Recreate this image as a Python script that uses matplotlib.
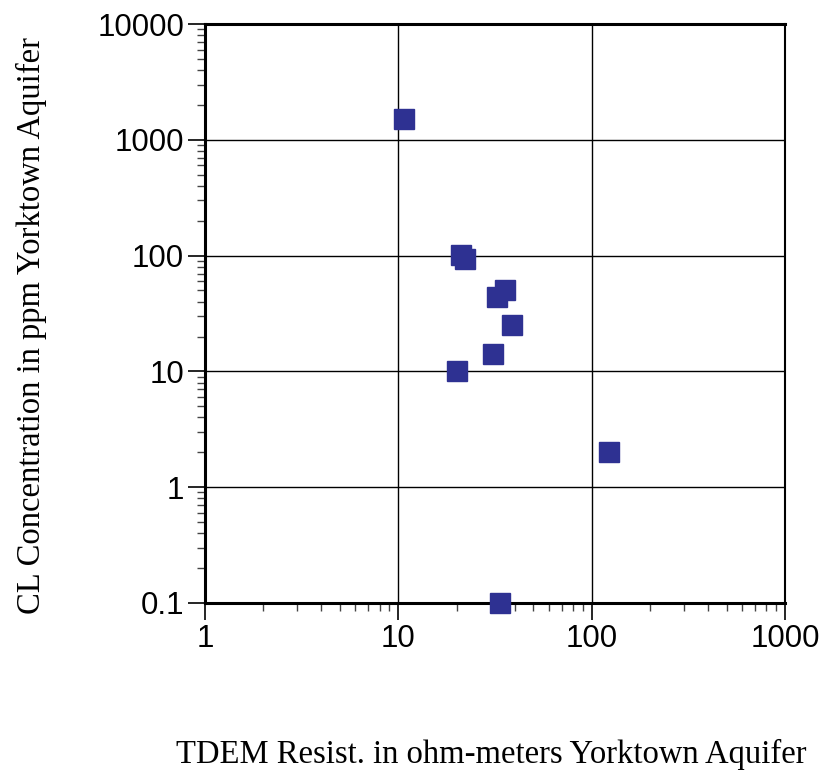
import numpy as np
import matplotlib
matplotlib.use("Agg")
from matplotlib import pyplot as plt
from matplotlib.ticker import LogLocator, FixedLocator, FixedFormatter, NullFormatter

# TDEM resistivity (ohm-m) vs CL concentration (ppm), Yorktown Aquifer
resist = [10.7, 21.1, 22.1, 35.6, 32.4, 38.7, 30.9, 20.1, 123, 33.6]
chloride = [1500, 102, 94, 50, 43.5, 25, 14, 10, 2.0, 0.1]

x_ticks = [1, 10, 100, 1000]
x_labels = ['1', '10', '100', '1000']
y_ticks = [0.1, 1, 10, 100, 1000, 10000]
y_labels = ['0.1', '1', '10', '100', '1000', '10000']

fig = plt.figure(figsize=(8.25, 7.75), dpi=100)
ax = fig.add_axes([0.2485, 0.222, 0.703, 0.747])

ax.set_xscale('log')
ax.set_yscale('log')
ax.set_xlim(1, 1000)
ax.set_ylim(0.1, 10000)

# 网格线
ax.grid(True, which='major', color='black', linewidth=1.0)
ax.set_axisbelow(True)

ax.plot(resist, chloride, linestyle='none', marker='s', markersize=14.5,
        color='#2e3192', markeredgecolor='#2e3192', clip_on=False, zorder=5)

ax.xaxis.set_major_locator(FixedLocator(x_ticks))
ax.xaxis.set_major_formatter(FixedFormatter(x_labels))
ax.yaxis.set_major_locator(FixedLocator(y_ticks))
ax.yaxis.set_major_formatter(FixedFormatter(y_labels))
ax.xaxis.set_minor_locator(LogLocator(base=10, subs=np.arange(2, 10), numticks=20))
ax.yaxis.set_minor_locator(LogLocator(base=10, subs=np.arange(2, 10), numticks=20))
ax.xaxis.set_minor_formatter(NullFormatter())
ax.yaxis.set_minor_formatter(NullFormatter())

ax.tick_params(which='major', direction='out', length=12, width=1.2, color='black',
               labelsize=22.5, pad=3)
ax.tick_params(which='minor', direction='out', length=6, width=1.0, color='#444444')
for lbl in ax.get_xticklabels() + ax.get_yticklabels():
    lbl.set_family('Liberation Sans')

for side in ['left', 'bottom', 'top']:
    ax.spines[side].set_linewidth(2.2)
ax.spines['right'].set_linewidth(1.5)

ax.set_xlabel('TDEM Resist. in ohm-meters Yorktown Aquifer', family='Liberation Serif',
              fontsize=23.5)
ax.set_ylabel('CL Concentration in ppm Yorktown Aquifer', family='Liberation Serif',
              fontsize=23.5)
ax.xaxis.set_label_coords(0.493, -0.235)
ax.yaxis.set_label_coords(-0.272, 0.48)

fig.savefig('out.png', dpi=100)
